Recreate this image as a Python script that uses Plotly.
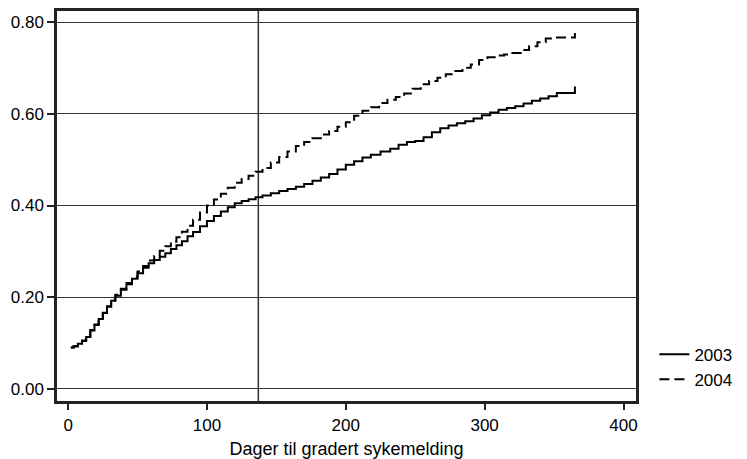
import plotly.graph_objects as go

# Days and cumulative proportion (step function)
days_2003 = [2, 4, 7, 10, 13, 16, 19, 22, 25, 28, 31, 34, 38, 42, 46, 50, 54, 58, 62, 66,
             70, 74, 78, 82, 86, 90, 95, 100, 105, 110, 115, 120, 125, 130, 135, 140, 146,
             152, 158, 164, 170, 176, 182, 188, 194, 200, 206, 212, 218, 225, 232, 238, 244,
             250, 256, 262, 268, 274, 280, 286, 292, 298, 304, 310, 316, 322, 328, 334, 340,
             346, 352, 365]
vals_2003 = [0.090, 0.092, 0.098, 0.104, 0.113, 0.127, 0.139, 0.152, 0.165, 0.179, 0.192,
             0.203, 0.216, 0.228, 0.240, 0.252, 0.264, 0.274, 0.281, 0.288, 0.296, 0.305,
             0.313, 0.322, 0.333, 0.342, 0.355, 0.366, 0.377, 0.387, 0.396, 0.405, 0.410,
             0.414, 0.418, 0.422, 0.427, 0.432, 0.436, 0.441, 0.447, 0.454, 0.461, 0.469,
             0.479, 0.489, 0.497, 0.505, 0.511, 0.518, 0.524, 0.533, 0.539, 0.541, 0.549,
             0.560, 0.569, 0.575, 0.580, 0.584, 0.590, 0.597, 0.603, 0.609, 0.613, 0.617,
             0.623, 0.629, 0.634, 0.639, 0.646, 0.660]

days_2004 = [2, 4, 7, 10, 13, 16, 19, 22, 25, 28, 31, 34, 38, 42, 46, 50, 54, 58, 62, 66,
             70, 74, 78, 82, 86, 90, 95, 100, 105, 110, 115, 120, 125, 130, 135, 140, 146,
             152, 158, 164, 170, 176, 182, 188, 194, 200, 206, 212, 218, 224, 230, 236, 242,
             248, 254, 260, 266, 272, 278, 284, 290, 296, 302, 308, 314, 320, 326, 332, 338,
             344, 350, 365]
vals_2004 = [0.090, 0.093, 0.099, 0.105, 0.114, 0.128, 0.140, 0.153, 0.166, 0.180, 0.193,
             0.205, 0.218, 0.231, 0.243, 0.256, 0.268, 0.280, 0.290, 0.301, 0.311, 0.321,
             0.331, 0.343, 0.356, 0.369, 0.385, 0.400, 0.413, 0.426, 0.439, 0.450, 0.458,
             0.465, 0.474, 0.482, 0.494, 0.506, 0.518, 0.530, 0.539, 0.547, 0.555, 0.563,
             0.572, 0.582, 0.596, 0.607, 0.615, 0.624, 0.631, 0.637, 0.645, 0.655, 0.665,
             0.672, 0.679, 0.687, 0.694, 0.701, 0.708, 0.718, 0.724, 0.728, 0.730, 0.733,
             0.740, 0.748, 0.757, 0.765, 0.767, 0.777]

x_ticks = [0, 100, 200, 300, 400]
y_ticks = [0.0, 0.2, 0.4, 0.6, 0.8]
ref_day = 137
x_title = "Dager til gradert sykemelding"

FONT = "Liberation Sans, Arial, sans-serif"

fig = go.Figure()
fig.add_trace(go.Scatter(x=days_2003, y=vals_2003, mode="lines", name="2003",
                         line=dict(color="black", width=2, shape="hv")))
fig.add_trace(go.Scatter(x=days_2004, y=vals_2004, mode="lines", name="2004",
                         line=dict(color="black", width=2, shape="hv", dash="10px,5px")))

fig.add_vline(x=ref_day, line=dict(color="#333333", width=1.5), layer="below")

fig.update_layout(
    width=747, height=459,
    margin=dict(l=57, r=110, t=11, b=58),
    paper_bgcolor="white", plot_bgcolor="white",
    font=dict(family=FONT, size=17, color="black"),
    showlegend=True,
    legend=dict(x=1.03, y=0.165, xanchor="left", yanchor="top",
                font=dict(size=17), bgcolor="rgba(0,0,0,0)",
                itemwidth=30, tracegroupgap=0),
)
fig.update_xaxes(
    range=[-8, 409], tickvals=x_ticks, ticks="outside", ticklen=6, tickwidth=1.5,
    tickcolor="#222", showgrid=False, zeroline=False, ticklabelstandoff=1,
    showline=True, linewidth=2.5, linecolor="#222", mirror=True, automargin=False,
    title=dict(text=x_title, standoff=14, font=dict(size=18)),
)
fig.update_yaxes(
    range=[-0.027, 0.825], tickvals=y_ticks, tickformat=".2f", ticks="outside",
    ticklen=7, tickwidth=1.5, tickcolor="#222", automargin=False,
    showgrid=True, gridcolor="#333333", gridwidth=1, zeroline=False,
    showline=True, linewidth=2.5, linecolor="#222", mirror=True,
)

fig.write_html("out.html")
